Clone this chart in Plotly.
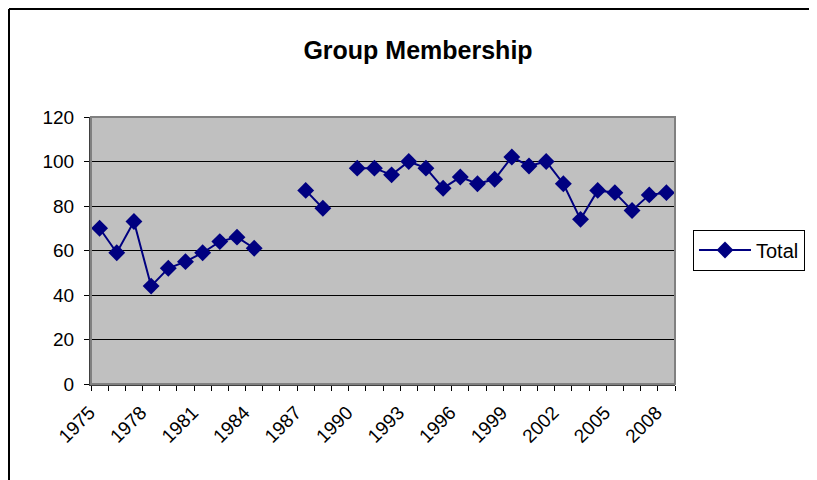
import plotly.graph_objects as go

years = list(range(1975, 2009))
total = [70, 59, 73, 44, 52, 55, 59, 64, 66, 61,
         None, None, 87, 79, None,
         97, 97, 94, 100, 97, 88, 93, 90, 92, 102, 98, 100, 90, 74, 87, 86, 78, 85, 86]
tick_years = list(range(1975, 2009, 3))
y_ticks = [0, 20, 40, 60, 80, 100, 120]

# page has an 8px body margin, so the figure is 8px smaller and everything is in figure px
W, H = 809, 472
L, R, T, B = 83, 667, 109, 376
pw, ph = R - L, B - T

def px(x):
    return (x - L) / pw

def py(y):
    return (B - y) / ph

fig = go.Figure()
fig.add_trace(go.Scatter(
    x=years, y=total, name="Total", mode="lines+markers",
    connectgaps=False,
    line=dict(color="#000080", width=2),
    marker=dict(symbol="diamond", size=13, color="#000080"),
))

font = "Liberation Sans, Arial, sans-serif"
fig.update_layout(
    width=W, height=H,
    margin=dict(l=L, r=W - R, t=T, b=H - B, pad=0, autoexpand=False),
    paper_bgcolor="white", plot_bgcolor="#C0C0C0",
    font=dict(family=font, size=19, color="black"),
    title=dict(text="<b>Group Membership</b>", x=410 / W, xanchor="center",
               y=1 - 42 / H, yanchor="middle", font=dict(size=25, family=font)),
    showlegend=True,
    legend=dict(x=px(685), y=py(242), xanchor="left", yanchor="middle",
                bordercolor="black", borderwidth=1, bgcolor="white",
                font=dict(size=20, family=font), itemwidth=52),
    xaxis=dict(range=[1974.5, 2008.5], tickvals=tick_years,
               ticktext=[str(v) for v in tick_years], tickangle=-45,
               ticks="", showgrid=False, zeroline=False,
               showline=True, linecolor="#404040", linewidth=2,
               ticklabelshift=-10, ticklabelstandoff=8,
               tickfont=dict(size=19, family=font),
               minor=dict(tickvals=[y + 0.5 for y in range(1974, 2009)],
                          ticks="outside", ticklen=5, tickcolor="black",
                          showgrid=False)),
    yaxis=dict(range=[0, 120], tickvals=y_ticks, ticks="outside", ticklen=5,
               tickcolor="black", showgrid=True, gridcolor="black", gridwidth=1,
               zeroline=False, showline=True, linecolor="#404040", linewidth=2,
               ticklabelstandoff=6,
               tickfont=dict(size=19, family=font)),
    shapes=[
        dict(type="rect", xref="paper", yref="paper", x0=0, x1=1, y0=0, y1=1,
             line=dict(color="#808080", width=2), layer="above"),
        dict(type="line", xref="paper", yref="paper", x0=px(1), x1=px(830),
             y0=py(1), y1=py(1), line=dict(color="black", width=2)),
        dict(type="line", xref="paper", yref="paper", x0=px(1), x1=px(1),
             y0=py(1), y1=py(495), line=dict(color="black", width=2)),
    ],
)

fig.write_html("out.html")
